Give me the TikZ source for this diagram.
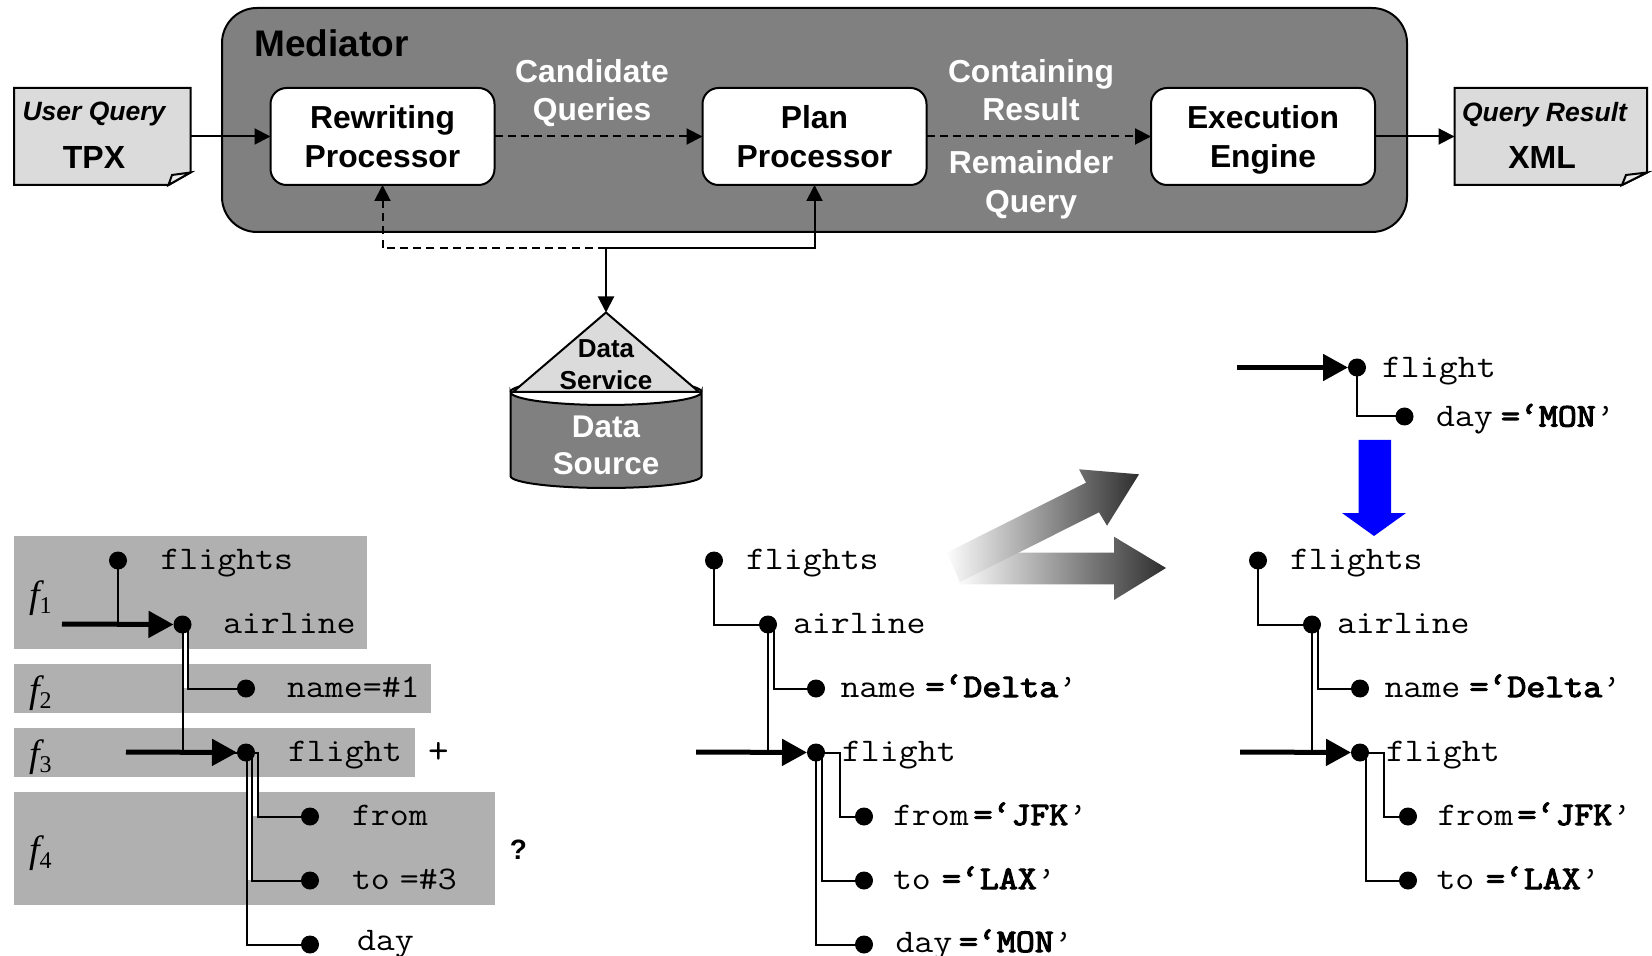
\documentclass[tikz,border=0pt]{standalone}
\usepackage{fontspec}
\usepackage{graphicx}
\setmainfont{Liberation Sans}
\newfontfamily\serifital{Liberation Serif}
\newfontfamily\monoheavy[FakeBold=3.2]{Latin Modern Mono}
\usetikzlibrary{arrows.meta,calc}
\newcommand\mt[1]{\scalebox{1.115}[1]{\fontsize{16.5}{16.5}\selectfont\ttfamily #1}}
\newcommand\mv[1]{\scalebox{1.115}[1]{\fontsize{16.5}{16.5}\selectfont{\monoheavy =‘#1}\ttfamily ’}}
\newcommand\fl[1]{{\serifital\fontsize{19}{19}\selectfont\itshape f}\raisebox{-3pt}{\serifital\fontsize{12}{12}\selectfont #1}}
\tikzset{
  procbox/.style={draw=black,fill=white,line width=1pt,rounded corners=8pt,minimum width=112pt,minimum height=48.5pt,inner sep=0pt,outer sep=0pt,align=center,font=\fontsize{15.9}{19.35}\selectfont\bfseries},
  mlabel/.style={text=white,align=center,inner sep=0pt,font=\fontsize{15.9}{19.35}\selectfont\bfseries},
  docanchor/.style={minimum width=88.5pt,minimum height=48.5pt,inner sep=0pt,outer sep=0pt},
  docshape/.style={draw=black,fill=black!14,line width=1pt},
  conn/.style={line width=1pt,-{Triangle[length=8pt,width=8pt]}},
  dconn/.style={conn,dash pattern=on 4pt off 2.6pt},
  dot/.style={circle,fill=black,inner sep=0pt,minimum size=9pt,outer sep=0pt},
  tline/.style={line width=1pt},
  heavy/.style={line width=2.5pt,-{Triangle[length=12.5pt,width=13pt]}},
  treet/.style={anchor=base west,inner sep=0pt,outer sep=0pt},
  frag/.style={fill=black!31,draw=none},
  fgrad/.style={left color=black!1,middle color=black!24,right color=black!82,draw=none}
}
\begin{document}
\begin{tikzpicture}[x=0.5pt,y=-0.5pt]
\useasboundingbox (0,0) rectangle (1652,956);

% ---------- Mediator
\node[draw=black,fill=black!50,line width=1pt,rounded corners=17.5pt,minimum width=592.5pt,minimum height=112pt,inner sep=0pt,outer sep=0pt] (med) at (814.5,120) {};
\node[anchor=west,inner sep=0pt,font=\fontsize{18.5}{18.5}\selectfont\bfseries] (medt) at (254,43) {Mediator};
\node[procbox] (rw) at (382.5,136.5) {\raisebox{-1pt}{Rewriting}\\\raisebox{-1pt}{Processor}};
\node[procbox] (plan) at (814.5,136.5) {\raisebox{-1pt}{Plan}\\\raisebox{-1pt}{Processor}};
\node[procbox] (exec) at (1263,136.5) {\raisebox{-1pt}{Execution}\\\raisebox{-1pt}{\smash{Engine}}};
\node[mlabel] (cq) at (592,90) {Candidate\\\smash{Queries}};
\node[mlabel] (cr) at (1031,90) {Containing\\Result};
\node[mlabel] (rq) at (1031,184.5) {Remainder\\Query};

% ---------- Documents
\draw[docshape] (14,88) -- (190.5,88) -- (190.5,172.5) -- (168.5,185) -- (14,185) -- cycle;
\draw[line width=1pt,fill=black!8] (190.5,172.5) -- (172,175) -- (168.5,185) -- cycle;
\node[docanchor] (uq) at (102.25,136.5) {};
\node[inner sep=0pt,font=\fontsize{13.25}{13.25}\selectfont\bfseries\itshape] (uqt) at (94,114.5) {User Query};
\node[inner sep=0pt,font=\fontsize{16}{16}\selectfont\bfseries] (tpx) at (94,157) {TPX};
\draw[docshape] (1454.5,88) -- (1647,88) -- (1647,172.5) -- (1622,185) -- (1454.5,185) -- cycle;
\draw[line width=1pt,fill=black!8] (1647,172.5) -- (1626,175) -- (1622,185) -- cycle;
\node[minimum width=96.25pt,minimum height=48.5pt,inner sep=0pt,outer sep=0pt] (qr) at (1550.75,136.5) {};
\node[inner sep=0pt,font=\fontsize{13.25}{13.25}\selectfont\bfseries\itshape] (qrt) at (1544.5,114.5) {Query Result};
\node[inner sep=0pt,font=\fontsize{16}{16}\selectfont\bfseries] (xml) at (1542,157) {XML};

% ---------- Data service / source
\draw[line width=1pt,fill=black!50] (510.5,392) arc[start angle=180,end angle=0,x radius=95.5,y radius=13] -- (701.5,476) arc[start angle=0,end angle=-180,x radius=95.5,y radius=-12] -- cycle;
\draw[line width=1pt] (510.5,392) arc[start angle=180,end angle=0,x radius=95.5,y radius=-13];
\draw[line width=1pt,fill=black!14] (606,312.5) -- (699,392) -- (513,392) -- cycle;
\coordinate (apex) at (606,312.5);
\coordinate (junc) at (606,248.5);
\node[align=center,inner sep=0pt,font=\fontsize{13}{16}\selectfont\bfseries] (dsv) at (606,365) {Data\\Service};
\node[align=center,inner sep=0pt,text=white,font=\fontsize{15.7}{18.6}\selectfont\bfseries] (dsr) at (606,445) {Data\\Source};

% ---------- Top connectors
\draw[conn] (uq.east) -- (rw.west);
\draw[dconn] (rw.east) -- (plan.west);
\draw[dconn] (plan.east) -- (exec.west);
\draw[conn] (exec.east) -- (qr.west);
\draw[conn] (junc) -| (plan.south);
\draw[dconn] (junc) -| (rw.south);
\draw[conn] (junc) -- (apex);

% ---------- Left: fragments
\fill[frag] (14,536) rectangle (367,648.7);
\fill[frag] (14,664) rectangle (431,712.7);
\fill[frag] (14,728) rectangle (415,776.7);
\fill[frag] (14,792) rectangle (495,904.7);
\fill[white] (183,632) rectangle (188,688);
\fill[white] (247,792) rectangle (258,816);
\fill[white] (247,816) rectangle (252,880);

\node[dot] (a1) at (118,560.5) {};
\node[dot] (a2) at (182.5,624.5) {};
\node[dot] (a3) at (246,688.5) {};
\node[dot] (a4) at (246,752.5) {};
\node[dot] (a5) at (310,816.5) {};
\node[dot] (a6) at (310,880.5) {};
\node[dot] (a7) at (310,944.5) {};
\coordinate (as1) at (62,624);
\coordinate (as2) at (126,752);
\draw[tline] (a1.center) -- (118,624.5);
\draw[heavy] (as1) -- (a2.west);
\draw[tline] (a2.center) |- (a4.center);
\draw[tline] ([xshift=2.85pt]a2.center) |- (a3.center);
\draw[heavy] (as2) -- (a4.west);
\draw[tline] ([xshift=0.4pt]a4.center) |- (a7.center);
\draw[tline] ([xshift=3pt]a4.center) |- (a6.center);
\draw[tline] (a4.center) -- ([xshift=6pt]a4.center) |- (a5.center);
\node[treet] (at1) at (160.5,569) {\mt{flights}};
\node[treet] (at2) at (223,633) {\mt{airline}};
\node[treet] (at3) at (287,697) {\mt{name=\#1}};
\node[treet] (at4) at (288,761) {\mt{flight}};
\node[treet] (at5) at (352,825) {\mt{from}};
\node[treet] (at6) at (352,889) {\mt{to\hspace{4.5pt}=\#3}};
\node[treet] (at7) at (357,950) {\mt{day}};
\node[treet] (f1) at (29,607) {\fl{1}};
\node[treet] (f2) at (29,702) {\fl{2}};
\node[treet] (f3) at (29,766) {\fl{3}};
\node[treet] (f4) at (29,862) {\fl{4}};
\node[inner sep=0pt,font=\fontsize{20}{20}\selectfont\ttfamily] (plus) at (438.5,753) {+};
\node[inner sep=0pt,font=\fontsize{14}{14}\selectfont\bfseries] (qm) at (518.5,850) {?};

% ---------- Middle tree
\node[dot] (b1) at (714,560.5) {};
\node[dot] (b2) at (768,624.5) {};
\node[dot] (b3) at (816,688.5) {};
\node[dot] (b4) at (816,752.5) {};
\node[dot] (b5) at (864,816.5) {};
\node[dot] (b6) at (864,880.5) {};
\node[dot] (b7) at (864,944.5) {};
\coordinate (bs) at (696,752);
\draw[tline] (b1.center) |- (b2.center);
\draw[tline] (b2.center) -- (768,752.5);
\draw[tline] ([xshift=2.85pt]b2.center) |- (b3.center);
\draw[heavy] (bs) -- (b4.west);
\draw[tline] (b4.center) |- (b7.center);
\draw[tline] ([xshift=2.85pt]b4.center) |- (b6.center);
\draw[tline] (b4.center) -- ([xshift=12pt]b4.center) |- (b5.center);
\node[treet] (bt1) at (746,569) {\mt{flights}};
\node[treet] (bt2) at (793,633) {\mt{airline}};
\node[treet] (bt3) at (840.5,697) {\mt{name}};
\node[treet] (bv3) at (925.5,697) {\mv{Delta}};
\node[treet] (bt4) at (842,761) {\mt{flight}};
\node[treet] (bt5) at (893,825) {\mt{from}};
\node[treet] (bv5) at (973.5,825) {\mv{JFK}};
\node[treet] (bt6) at (893,889) {\mt{to}};
\node[treet] (bv6) at (942,889) {\mv{LAX}};
\node[treet] (bt7) at (895.5,952) {\mt{day}};
\node[treet] (bv7) at (959,952) {\mv{MON}};

% ---------- Right tree
\node[dot] (c1) at (1258,560.5) {};
\node[dot] (c2) at (1312,624.5) {};
\node[dot] (c3) at (1360,688.5) {};
\node[dot] (c4) at (1360,752.5) {};
\node[dot] (c5) at (1408,816.5) {};
\node[dot] (c6) at (1408,880.5) {};
\coordinate (cs) at (1240,752);
\draw[tline] (c1.center) |- (c2.center);
\draw[tline] (c2.center) -- (1312,752.5);
\draw[tline] ([xshift=2.85pt]c2.center) |- (c3.center);
\draw[heavy] (cs) -- (c4.west);
\draw[tline] ([xshift=2.85pt]c4.center) |- (c6.center);
\draw[tline] (c4.center) -- ([xshift=12pt]c4.center) |- (c5.center);
\node[treet] (ct1) at (1290,569) {\mt{flights}};
\node[treet] (ct2) at (1337,633) {\mt{airline}};
\node[treet] (ct3) at (1384.5,697) {\mt{name}};
\node[treet] (cv3) at (1469.5,697) {\mv{Delta}};
\node[treet] (ct4) at (1386,761) {\mt{flight}};
\node[treet] (ct5) at (1437.5,825) {\mt{from}};
\node[treet] (cv5) at (1517.5,825) {\mv{JFK}};
\node[treet] (ct6) at (1436.5,889) {\mt{to}};
\node[treet] (cv6) at (1486,889) {\mv{LAX}};

% ---------- Top-right tree
\node[dot] (d1) at (1357,367.5) {};
\node[dot] (d2) at (1404.5,416.5) {};
\coordinate (ds) at (1237,367.5);
\draw[heavy] (ds) -- (d1.west);
\draw[tline] (d1.center) |- (d2.center);
\node[treet] (dt1) at (1382,377.5) {\mt{flight}};
\node[treet] (dt2) at (1436,426.5) {\mt{day}};
\node[treet] (dv2) at (1501,426.5) {\mv{MON}};

% ---------- Blue arrow
\fill[blue] (1358.5,440) -- (1391,440) -- (1391,513) -- (1406,513) -- (1374,536) -- (1342,513) -- (1358.5,513) -- cycle;

% ---------- Gradient arrows
\shade[fgrad] (958,552.7) -- (1114,552.7) -- (1114,536.7) -- (1166,568) -- (1114,600) -- (1114,584.3) -- (958,584.3) -- cycle;
\shade[fgrad] (946.7,552.7) -- (1086,482.7) -- (1079,469.3) -- (1139,474.3) -- (1107,525.7) -- (1099,512.3) -- (960,582) -- cycle;
\end{tikzpicture}
\end{document}
